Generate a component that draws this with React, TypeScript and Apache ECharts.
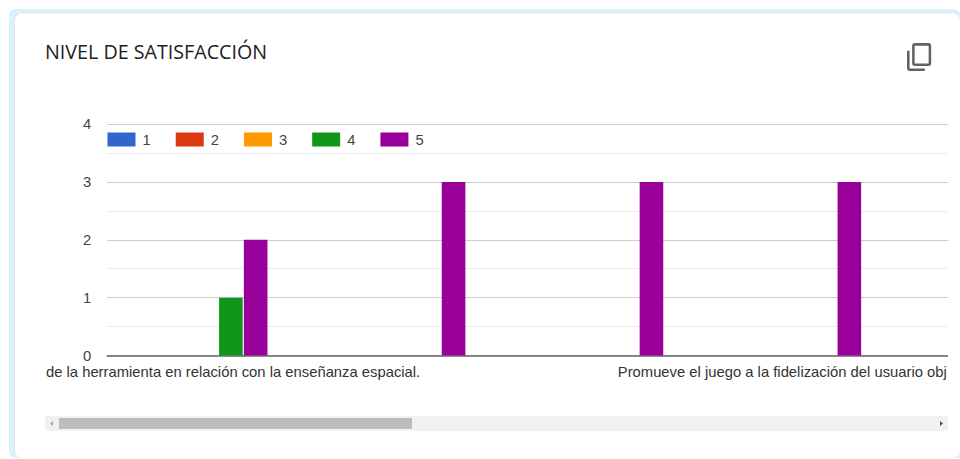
import React, { useEffect, useRef } from "react";
import * as echarts from "echarts";

// Question labels on the category axis; only the first and fourth are long enough to show.
const categories = [
  "de la herramienta en relación con la enseñanza espacial.",
  "",
  "",
  "Promueve el juego a la fidelización del usuario obj",
  "",
];
const ratingNames = ["1", "2", "3", "4", "5"];
const ratingColors = ["#3366cc", "#dc3912", "#ff9900", "#109618", "#990099"];
const rating1 = [0, 0, 0, 0, null];
const rating2 = [0, 0, 0, 0, null];
const rating3 = [0, 0, 0, 0, null];
const rating4 = [1, 0, 0, 0, null];
const rating5 = [2, 3, 3, 3, null];
const ratingValues = [rating1, rating2, rating3, rating4, rating5];
const yTicks = { min: 0, max: 4, interval: 1 };

const COPY_ICON =
  "M16 1H4c-1.1 0-2 .9-2 2v14h2V3h12V1zm3 4H8c-1.1 0-2 .9-2 2v14c0 1.1.9 2 2 2h11c1.1 0 2-.9 2-2V7c0-1.1-.9-2-2-2zm0 16H8V7h11v14z";
echarts.graphic.registerShape("copyIcon", echarts.graphic.extendPath(COPY_ICON as any, {}) as any);

const CHART_LEFT = 44;

export default function App() {
  const ref = useRef<HTMLDivElement>(null);

  useEffect(() => {
    const chart = echarts.init(ref.current!, undefined, { renderer: "svg" });
    chart.setOption({
      animation: false,
      backgroundColor: "transparent",
      textStyle: { fontFamily: "Liberation Sans" },
      title: {
        text: "NIVEL DE SATISFACCIÓN",
        left: 45 - CHART_LEFT,
        top: 41,
        padding: 0,
        textStyle: { fontFamily: "Open Sans", fontSize: 19.7, fontWeight: 400, color: "#202124" },
      },
      legend: {
        left: 107.5 - CHART_LEFT,
        top: 132,
        padding: 0,
        itemWidth: 28,
        itemHeight: 14,
        itemGap: 25,
        icon: "rect",
        data: ratingNames,
        textStyle: { fontSize: 14.8, color: "#444444", padding: [0, 0, 0, 2] },
      },
      grid: {
        left: 107.15 - CHART_LEFT,
        top: 124,
        width: 989.5,
        height: 231.5,
        outerBoundsMode: "none",
      },
      xAxis: {
        type: "category",
        data: [
          { value: categories[0], textStyle: { padding: [0, 0, 0, 54] } },
          categories[1],
          categories[2],
          { value: categories[3], textStyle: { padding: [0, 35, 0, 0] } },
          categories[4],
        ],
        axisTick: { show: false },
        axisLine: { lineStyle: { color: "#666666", width: 1.5 } },
        axisLabel: { interval: 0, margin: 9, fontSize: 14.8, color: "#333333", hideOverlap: false },
      },
      yAxis: {
        type: "value",
        min: yTicks.min,
        max: yTicks.max,
        interval: yTicks.interval,
        axisLine: { show: false },
        axisTick: { show: false },
        axisLabel: { margin: 16, fontSize: 14.8, color: "#444444" },
        splitLine: { lineStyle: { color: "#cccccc", width: 1 } },
        minorTick: { show: false, splitNumber: 2 },
        minorSplitLine: { show: true, lineStyle: { color: "#ebebeb", width: 1 } },
      },
      series: ratingNames.map((name, i) => ({
        name,
        type: "bar",
        data: ratingValues[i],
        barWidth: 23.6,
        barGap: "5%",
        itemStyle: { color: ratingColors[i] },
      })),
      graphic: [
        { type: "rect", shape: { x: 45 - CHART_LEFT, y: 416, width: 903, height: 15 }, style: { fill: "#f1f1f1" } },
        { type: "rect", shape: { x: 59 - CHART_LEFT, y: 418, width: 353, height: 11 }, style: { fill: "#bdbdbd" } },
        { type: "polygon", shape: { points: [[50 - CHART_LEFT, 423.5], [53 - CHART_LEFT, 421], [53 - CHART_LEFT, 426]] }, style: { fill: "#a3a3a3" } },
        { type: "polygon", shape: { points: [[940 - CHART_LEFT, 421], [940 - CHART_LEFT, 426], [943 - CHART_LEFT, 423.5]] }, style: { fill: "#505050" } },
        {
          type: "copyIcon",
          x: 904.5 - CHART_LEFT,
          y: 72.3,
          scaleX: 1.27,
          scaleY: -1.27,
          style: { fill: "#5f6368" },
        },
      ],
    });
    return () => chart.dispose();
  }, []);

  return (
    <div style={{ position: "fixed", left: 0, top: 0, width: 960, height: 459, background: "#ffffff", overflow: "hidden" }}>
      <div style={{ position: "absolute", left: 9, top: 9, width: 951, height: 449, background: "#d9f3fc", borderRadius: "6px 6px 0 6px" }} />
      <div
        style={{
          position: "absolute",
          left: 14,
          top: 12,
          width: 946,
          height: 446,
          boxSizing: "border-box",
          background: "#ffffff",
          borderLeft: "1px solid #e2e2e2",
          borderTop: "1px solid #e2e2e2",
          borderRadius: 8,
        }}
      />
      <div ref={ref} style={{ position: "absolute", left: CHART_LEFT, top: 0, width: 904, height: 459 }} />
    </div>
  );
}
